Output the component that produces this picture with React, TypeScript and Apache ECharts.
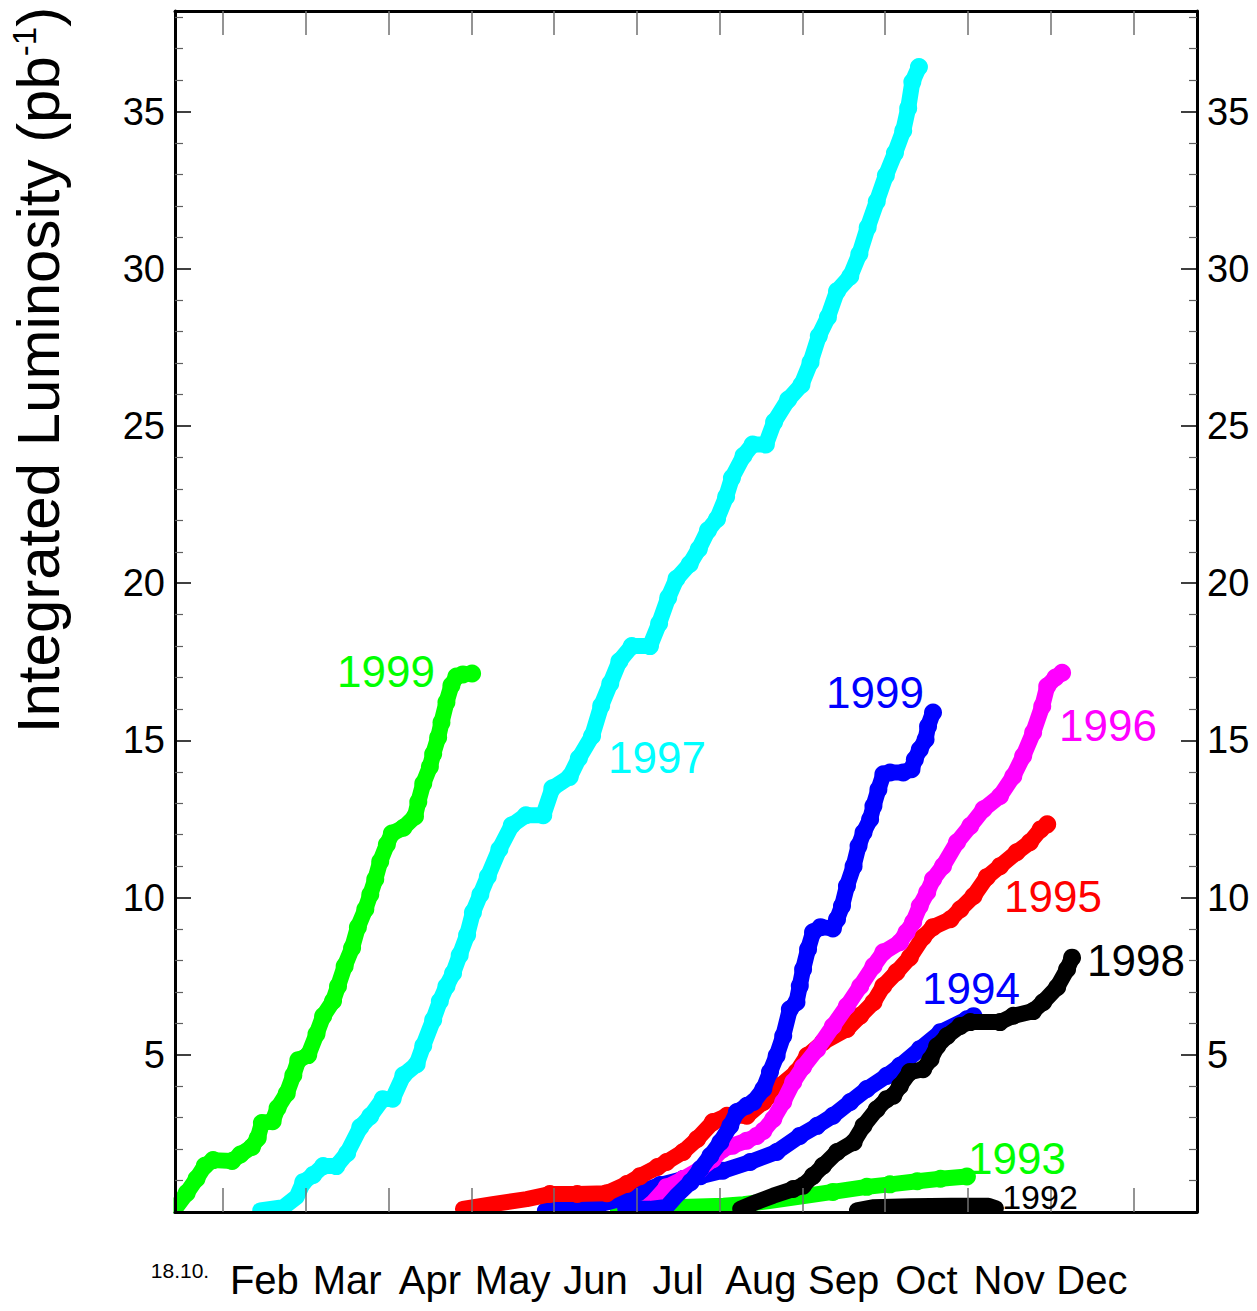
import React, { useEffect, useRef } from 'react';
import * as echarts from 'echarts';

const FONT = '"Liberation Sans", Arial, Helvetica, sans-serif';

// x unit: months since 1 January (1 = Feb 1, 12 = Jan 1 of next year)
const MONTH_NAMES = ['Feb', 'Mar', 'Apr', 'May', 'Jun', 'Jul', 'Aug', 'Sep', 'Oct', 'Nov', 'Dec'];
const MONTH_BOUNDARIES = [1, 2, 3, 4, 5, 6, 7, 8, 9, 10, 11, 12];
const MONTH_CENTERS = [1.5, 2.5, 3.5, 4.5, 5.5, 6.5, 7.5, 8.5, 9.5, 10.5, 11.5];
const Y_MAJOR = [5, 10, 15, 20, 25, 30, 35];
const Y_MINOR = [1, 2, 3, 4, 6, 7, 8, 9, 11, 12, 13, 14, 16, 17, 18, 19, 21, 22, 23, 24, 26, 27, 28, 29, 31, 32, 33, 34, 36, 37, 38];
const START_LABEL = '18.10.';
const Y_TITLE_MAIN = 'Integrated Luminosity (pb';
const Y_TITLE_SUP = '-1';

// integrated luminosity (pb^-1) vs time of year
const lumi1992 = [[8.66, 0.05], [8.85, 0.15], [9.3, 0.18], [9.8, 0.2], [10.25, 0.2], [10.34, 0.12]];
const lumi1993 = [[5.77, 0.08], [6.44, 0.15], [7.05, 0.2], [7.29, 0.25], [7.6, 0.35], [8.06, 0.52], [8.37, 0.64], [8.78, 0.8], [9.06, 0.88], [9.39, 0.98], [9.67, 1.06], [9.99, 1.13]];
const lumi1994 = [[4.89, 0.05], [5.19, 0.1], [5.47, 0.19], [5.8, 0.41], [6.04, 0.64], [6.28, 0.86], [6.56, 1.05], [6.77, 1.14], [7.04, 1.31], [7.37, 1.59], [7.69, 1.91], [7.97, 2.42], [8.18, 2.74], [8.37, 3.06], [8.58, 3.5], [8.78, 3.91], [9.02, 4.33], [9.18, 4.65], [9.42, 5.18], [9.67, 5.72], [9.99, 6.13], [10.07, 6.23]];
const lumi1995 = [[3.9, 0.1], [4.26, 0.25], [4.67, 0.41], [4.95, 0.57], [5.28, 0.57], [5.64, 0.6], [5.88, 0.89], [6.04, 1.14], [6.25, 1.43], [6.36, 1.59], [6.56, 1.91], [6.73, 2.32], [6.92, 2.86], [7.09, 3.06], [7.33, 3.06], [7.53, 3.5], [7.73, 4.01], [7.93, 4.45], [8.06, 4.97], [8.25, 5.4], [8.54, 5.82], [8.7, 6.24], [8.86, 6.67], [8.98, 7.19], [9.14, 7.63], [9.3, 8.1], [9.46, 8.74], [9.58, 9.06], [9.79, 9.31], [9.91, 9.63], [10.07, 10.05], [10.23, 10.65], [10.39, 11.0], [10.59, 11.44], [10.75, 11.76], [10.88, 12.17], [10.96, 12.33]];
const lumi1996 = [[6.1, 0.1], [6.2, 0.32], [6.36, 0.79], [6.56, 1.05], [6.77, 1.37], [6.92, 1.68], [7.04, 2.0], [7.16, 2.11], [7.33, 2.27], [7.45, 2.42], [7.53, 2.58], [7.65, 2.96], [7.77, 3.5], [7.89, 4.13], [8.01, 4.61], [8.18, 5.18], [8.37, 5.91], [8.54, 6.55], [8.7, 7.18], [8.86, 7.82], [8.98, 8.26], [9.18, 8.58], [9.26, 8.9], [9.34, 9.22], [9.42, 9.73], [9.51, 10.17], [9.58, 10.58], [9.7, 11.0], [9.87, 11.76], [10.03, 12.28], [10.19, 12.81], [10.39, 13.23], [10.55, 13.86], [10.67, 14.5], [10.79, 15.25], [10.9, 16.09], [10.96, 16.72], [11.06, 17.0], [11.14, 17.15]];
const lumi1997 = [[1.45, 0.05], [1.73, 0.15], [1.89, 0.48], [1.97, 0.95], [2.09, 1.18], [2.21, 1.46], [2.37, 1.46], [2.5, 1.87], [2.66, 2.7], [2.78, 3.05], [2.93, 3.59], [3.05, 3.6], [3.18, 4.35], [3.34, 4.7], [3.42, 5.29], [3.54, 6.11], [3.62, 6.7], [3.7, 7.18], [3.78, 7.59], [3.86, 8.17], [3.95, 8.81], [4.02, 9.53], [4.11, 10.1], [4.2, 10.67], [4.34, 11.54], [4.49, 12.3], [4.66, 12.62], [4.87, 12.62], [4.98, 13.48], [5.19, 13.84], [5.3, 14.43], [5.46, 15.14], [5.57, 16.1], [5.68, 16.81], [5.79, 17.52], [5.94, 18.0], [6.16, 18.0], [6.27, 18.72], [6.38, 19.54], [6.48, 20.14], [6.64, 20.61], [6.75, 21.09], [6.86, 21.68], [6.97, 22.04], [7.08, 22.75], [7.15, 23.35], [7.29, 24.05], [7.4, 24.41], [7.56, 24.41], [7.66, 25.13], [7.83, 25.84], [7.99, 26.31], [8.1, 27.03], [8.2, 27.86], [8.31, 28.46], [8.42, 29.29], [8.58, 29.76], [8.69, 30.47], [8.79, 31.31], [8.9, 32.14], [9.01, 32.97], [9.12, 33.68], [9.22, 34.39], [9.28, 35.11], [9.33, 35.94], [9.41, 36.42]];
const lumi1998 = [[7.25, 0.1], [7.45, 0.32], [7.65, 0.52], [7.89, 0.73], [8.01, 0.84], [8.13, 1.15], [8.25, 1.47], [8.42, 1.91], [8.62, 2.22], [8.74, 2.74], [8.9, 3.27], [9.02, 3.59], [9.1, 3.7], [9.18, 4.01], [9.3, 4.45], [9.46, 4.54], [9.55, 4.86], [9.63, 5.27], [9.75, 5.6], [9.91, 5.92], [10.03, 6.04], [10.39, 6.04], [10.55, 6.24], [10.79, 6.39], [10.91, 6.67], [11.08, 7.15], [11.2, 7.72], [11.26, 8.09]];
const lumi1999Spring = [[0.42, 0.1], [0.56, 0.6], [0.68, 1.06], [0.78, 1.47], [0.88, 1.65], [1.11, 1.62], [1.21, 1.83], [1.35, 2.07], [1.42, 2.35], [1.47, 2.83], [1.6, 2.89], [1.66, 3.31], [1.77, 3.77], [1.85, 4.35], [1.91, 4.83], [2.03, 4.99], [2.13, 5.66], [2.21, 6.23], [2.33, 6.71], [2.39, 7.18], [2.47, 7.82], [2.56, 8.4], [2.63, 9.06], [2.72, 9.63], [2.78, 10.1], [2.84, 10.58], [2.9, 11.15], [2.98, 11.69], [3.04, 12.04], [3.18, 12.22], [3.32, 12.58], [3.36, 13.04], [3.42, 13.63], [3.5, 14.16], [3.54, 14.57], [3.6, 15.09], [3.64, 15.57], [3.7, 16.21], [3.76, 16.75], [3.82, 17.03], [3.9, 17.1], [4.01, 17.13]];
const lumi1999Autumn = [[5.86, 0.1], [6.16, 0.1], [6.36, 0.16], [6.48, 0.52], [6.65, 0.95], [6.77, 1.37], [6.89, 1.79], [7.01, 2.22], [7.13, 2.74], [7.21, 3.18], [7.33, 3.38], [7.41, 3.5], [7.53, 3.91], [7.61, 4.45], [7.69, 4.97], [7.77, 5.6], [7.85, 6.45], [7.93, 6.67], [7.97, 7.19], [8.01, 7.72], [8.07, 8.36], [8.13, 8.9], [8.22, 9.06], [8.37, 9.02], [8.42, 9.31], [8.48, 9.73], [8.54, 10.37], [8.62, 11.0], [8.68, 11.64], [8.74, 12.07], [8.82, 12.49], [8.86, 12.91], [8.92, 13.44], [8.98, 13.92], [9.06, 13.98], [9.22, 13.98], [9.32, 14.08], [9.36, 14.39], [9.42, 14.71], [9.49, 15.03], [9.52, 15.45], [9.58, 15.89]];

const SERIES_DEFS = [
  { name: '1992', color: '#000000', data: lumi1992 },
  { name: '1993', color: '#00ff00', data: lumi1993 },
  { name: '1994', color: '#0000ff', data: lumi1994 },
  { name: '1995', color: '#ff0000', data: lumi1995 },
  { name: '1996', color: '#ff00ff', data: lumi1996 },
  { name: '1997', color: '#00ffff', data: lumi1997 },
  { name: '1998', color: '#000000', data: lumi1998 },
  { name: '1999 (spring)', color: '#00ff00', data: lumi1999Spring },
  { name: '1999 (autumn)', color: '#0000ff', data: lumi1999Autumn },
];

const YEAR_LABELS = [
  { text: '1999', color: '#00ff00', x: 386, y: 671, size: 44 },
  { text: '1997', color: '#00ffff', x: 657, y: 757, size: 44 },
  { text: '1999', color: '#0000ff', x: 875, y: 692, size: 44 },
  { text: '1996', color: '#ff00ff', x: 1108, y: 725, size: 44 },
  { text: '1995', color: '#ff0000', x: 1053, y: 896, size: 44 },
  { text: '1998', color: '#000000', x: 1136, y: 960, size: 44 },
  { text: '1994', color: '#0000ff', x: 971, y: 988, size: 44 },
  { text: '1993', color: '#00ff00', x: 1017, y: 1158, size: 44 },
  { text: '1992', color: '#000000', x: 1040, y: 1197, size: 34 },
];

const X_MIN = 0.42;
const X_MAX = 12.77;
const Y_MIN = 0;
const Y_MAX = 38.2;

export default function App() {
  const ref = useRef<HTMLDivElement>(null);

  useEffect(() => {
    if (!ref.current) return;
    const chart = echarts.init(ref.current, undefined, { renderer: 'svg' });

    const frame = { show: true, onZero: false, lineStyle: { color: '#000', width: 3 } };

    const xBase = {
      type: 'value',
      min: X_MIN,
      max: X_MAX,
      z: 10,
      splitLine: { show: false },
      axisLine: frame,
      axisTick: { show: true, inside: true, length: 24, customValues: MONTH_BOUNDARIES, lineStyle: { color: '#707070', width: 1.5 } },
    };

    const yMajor = (position: string) => ({
      type: 'value',
      position,
      min: Y_MIN,
      max: Y_MAX,
      z: 10,
      splitLine: { show: false },
      axisLine: frame,
      axisTick: { show: true, inside: true, length: 16, customValues: Y_MAJOR, lineStyle: { color: '#000', width: 1.5 } },
      axisLabel: { show: true, customValues: Y_MAJOR, fontSize: 38, fontFamily: FONT, color: '#000', margin: 10 },
    });
    const yMinor = (position: string) => ({
      type: 'value',
      position,
      min: Y_MIN,
      max: Y_MAX,
      z: 10,
      splitLine: { show: false },
      axisLine: { show: false, onZero: false },
      axisTick: { show: true, inside: true, length: 8, customValues: Y_MINOR, lineStyle: { color: '#606060', width: 1.2 } },
      axisLabel: { show: false },
    });

    const graphics: any[] = [
      // masks so the thick curves stop at the frame
      { type: 'rect', z: 5, silent: true, shape: { x: 120, y: 1213.5, width: 1100, height: 30 }, style: { fill: '#fff' } },
      { type: 'rect', z: 5, silent: true, shape: { x: 120, y: 1120, width: 53.5, height: 120 }, style: { fill: '#fff' } },
      {
        type: 'text',
        z: 20,
        x: 38,
        y: 370,
        rotation: Math.PI / 2,
        style: {
          text: `{a|${Y_TITLE_MAIN}}{s|${Y_TITLE_SUP}}{a|)}`,
          align: 'center',
          verticalAlign: 'middle',
          rich: {
            a: { fontSize: 60, fontFamily: FONT, fill: '#000' },
            s: { fontSize: 33, fontFamily: FONT, fill: '#000', verticalAlign: 'top' },
          },
        },
      },
      {
        type: 'text',
        z: 20,
        x: 180,
        y: 1270,
        style: { text: START_LABEL, fontSize: 21, fontFamily: FONT, fill: '#000', align: 'center', verticalAlign: 'middle' },
      },
      ...YEAR_LABELS.map((l) => ({
        type: 'text',
        z: 20,
        x: l.x,
        y: l.y,
        style: { text: l.text, fontSize: l.size, fontFamily: FONT, fill: l.color, align: 'center', verticalAlign: 'middle' },
      })),
    ];

    chart.setOption({
      animation: false,
      backgroundColor: '#ffffff',
      grid: { left: 175, top: 11, width: 1022, height: 1201, containLabel: false, outerBoundsMode: 'none' },
      xAxis: [
        {
          ...xBase,
          position: 'bottom',
          axisLabel: {
            show: true,
            customValues: MONTH_CENTERS,
            formatter: (v: number) => MONTH_NAMES[Math.round(v - 1.5)] ?? '',
            fontSize: 40,
            fontFamily: FONT,
            color: '#000',
            margin: 48,
          },
        },
        { ...xBase, position: 'top', axisLabel: { show: false } },
      ],
      yAxis: [yMajor('left'), yMajor('right'), yMinor('left'), yMinor('right')],
      series: SERIES_DEFS.map((s, i) => ({
        name: s.name,
        type: 'line',
        xAxisIndex: 0,
        yAxisIndex: 0,
        data: s.data,
        z: 2 + i * 0.01,
        clip: true,
        showSymbol: true,
        symbol: 'circle',
        symbolSize: (v: number[]) => (v[1] < 0.55 ? 0 : 18),
        lineStyle: { color: s.color, width: 16, cap: 'round', join: 'round' },
        itemStyle: { color: s.color },
        emphasis: { disabled: true },
        silent: true,
      })),
      graphic: graphics,
    });

    return () => chart.dispose();
  }, []);

  return <div ref={ref} style={{ position: 'absolute', left: 0, top: 0, width: 1257, height: 1311 }} />;
}
